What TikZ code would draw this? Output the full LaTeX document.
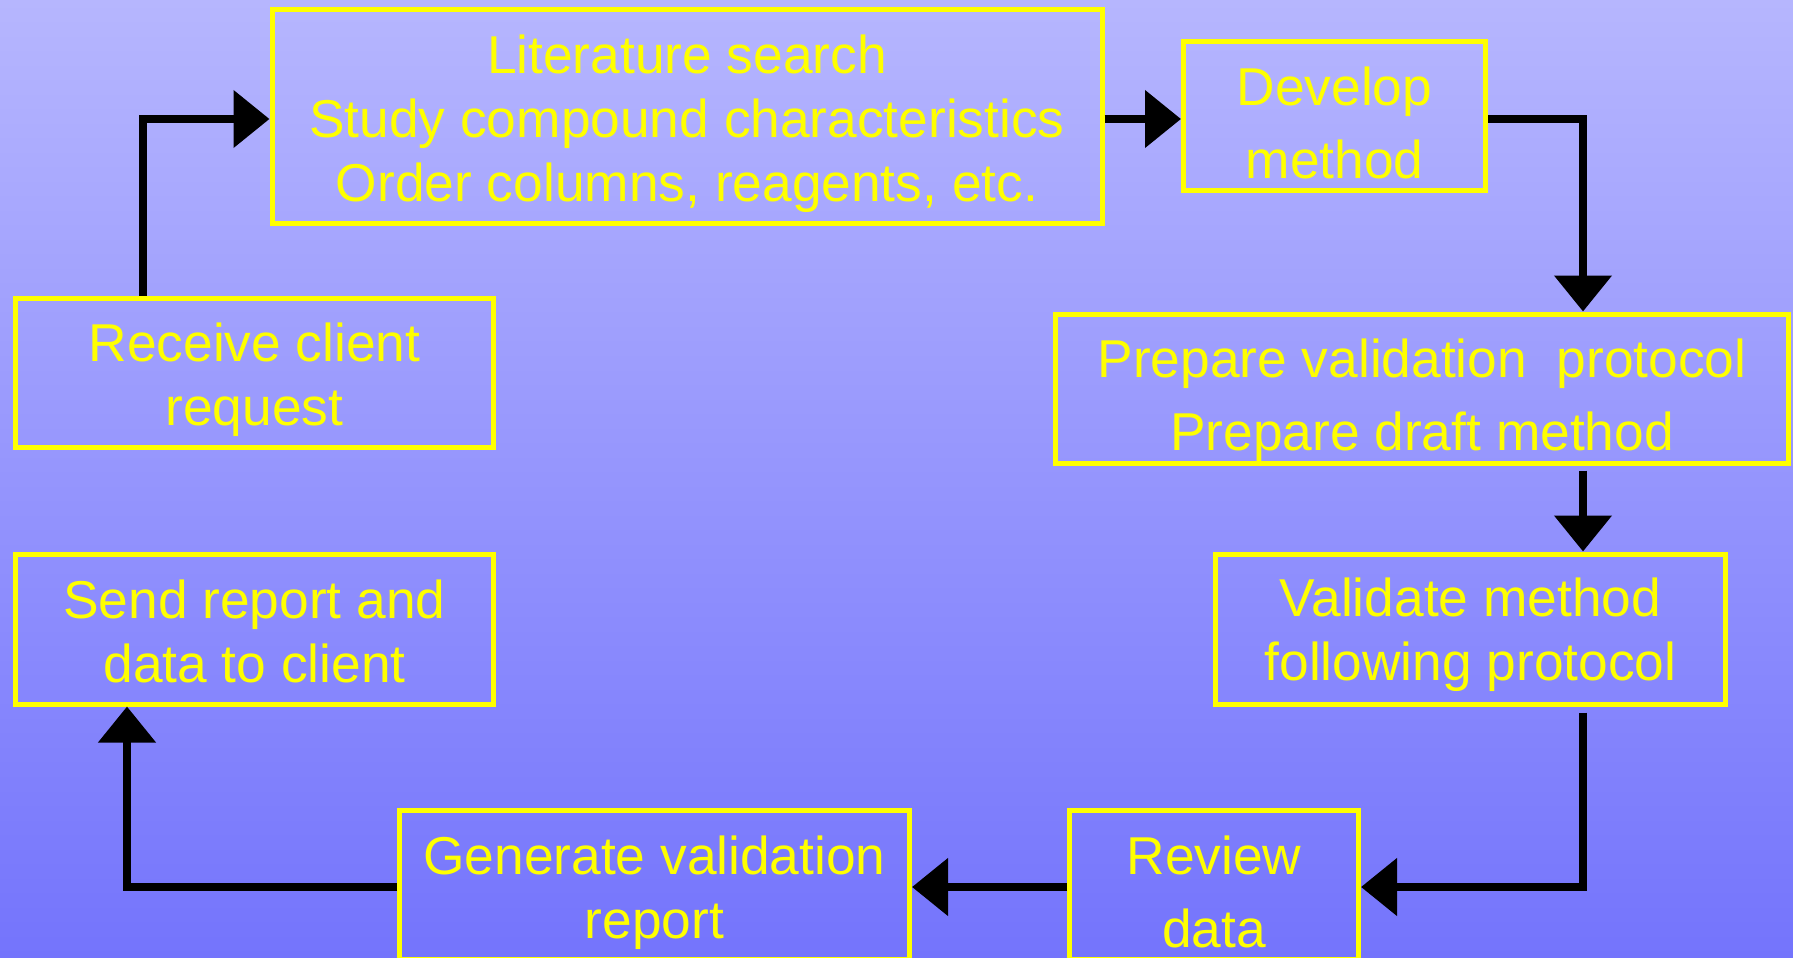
\documentclass[tikz,border=0pt]{standalone}
\usepackage{fontspec}
\setmainfont{Liberation Sans}
\usetikzlibrary{arrows.meta}
\usetikzlibrary{positioning}
\definecolor{bgtop}{RGB}{182,182,254}
\definecolor{bgbottom}{RGB}{116,116,252}
\definecolor{boxyellow}{RGB}{255,255,0}

\begin{document}
\begin{tikzpicture}[x=1pt, y=-1pt,
    stepbox/.style={draw=boxyellow, line width=5pt, inner sep=0pt},
    steptext/.style={text=boxyellow, align=center, inner sep=0pt,
      font=\fontsize{53.3}{64}\selectfont},
    loosetext/.style={steptext, font=\fontsize{53.3}{73}\selectfont},
    flow/.style={line width=8pt, -{Triangle[length=36pt, width=56pt]}}]
  \clip (0,0) rectangle (1793,958);
  \shade[top color=bgtop, bottom color=bgbottom] (0,0) rectangle (1793,958);
  % boxes
  \node[stepbox, minimum width=830pt, minimum height=213pt,
    label={[steptext, yshift=-7pt]center:{Literature search\\Study compound characteristics\\Order columns, reagents, etc.}}](lit) at (687,116.5) {};
  \node[stepbox, minimum width=302pt, minimum height=148pt,
    label={[loosetext, yshift=-6.5pt]center:{Develop\\method}}](dev) at (1334.5,116) {};
  \node[stepbox, minimum width=478pt, minimum height=149pt,
    label={[steptext, yshift=-7pt]center:{Receive client\\request}}](recv) at (254.5,372.5) {};
  \node[stepbox, minimum width=733pt, minimum height=149pt,
    label={[loosetext, yshift=-11.5pt]center:{Prepare validation\ \ protocol\\Prepare draft method}}](prep) at (1422,388.5) {};
  \node[stepbox, minimum width=510pt, minimum height=150pt,
    label={[steptext, yshift=-6pt]center:{Validate method\\following protocol}}](valid) at (1470.5,629) {};
  \node[stepbox, minimum width=478pt, minimum height=150pt,
    label={[steptext, yshift=-2pt]center:{Send report and\\data to client}}](send) at (254.5,629) {};
  \node[stepbox, minimum width=510pt, minimum height=149pt,
    label={[steptext, yshift=-8pt]center:{Generate validation\\report}}](gen) at (654.5,884.5) {};
  \node[stepbox, minimum width=289pt, minimum height=149pt,
    label={[loosetext, yshift=-7pt]center:{Review\\data}}](rev) at (1214,884.5) {};
  % rows and columns of the connectors
  \coordinate (ty) at (0,119);
  \coordinate (by) at (0,887);
  \coordinate (lx) at (143,0);
  \coordinate (rx) at (1583,0);
  \coordinate (bx) at (127,0);
  % connectors
  \draw[flow] (recv.north -| lx) |- (lit.west |- ty);
  \draw[flow] (lit.east |- ty) -- (dev.west |- ty);
  \draw[flow] (dev.east |- ty) -| (prep.north -| rx);
  \draw[flow] ([yshift=-5pt]prep.south -| rx) -- (valid.north -| rx);
  \draw[flow] ([yshift=-6pt]valid.south -| rx) |- (rev.east |- by);
  \draw[flow] (rev.west |- by) -- (gen.east |- by);
  \draw[flow] (gen.west |- by) -| (send.south -| bx);
\end{tikzpicture}
\end{document}
